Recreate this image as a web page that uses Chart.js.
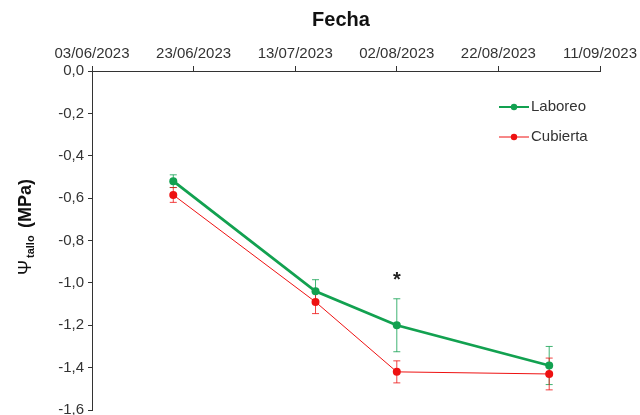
<!DOCTYPE html>
<html lang="es">
<head>
    <meta charset="UTF-8">
    <title>Potencial hídrico de tallo</title>
    <script src="https://cdn.jsdelivr.net/npm/chart.js"></script>
    <style>
        body { margin: 0; background: #fff; }
        #wrap { width: 640px; height: 415px; }
    </style>
</head>
<body>
    <div id="wrap"><canvas id="psiChart" width="640" height="415"></canvas></div>

    <script>
        // datos
        const fechaInicio = '03/06/2023';
        const fechas = ['19/06/2023', '17/07/2023', '02/08/2023', '01/09/2023'];
        const laboreo = [-0.52, -1.04, -1.20, -1.39];
        const laboreoErr = [0.03, 0.055, 0.125, 0.09];
        const cubierta = [-0.585, -1.09, -1.42, -1.43];
        const cubiertaErr = [0.035, 0.055, 0.052, 0.075];
        const significancia = ['', '', '*', ''];

        const FONT = "'Liberation Sans', Arial, sans-serif";
        const GREEN = '#12a150';
        const RED = '#ee1111';

        function parseFecha(s) {
            const [d, m, y] = s.split('/').map(Number);
            return Date.UTC(y, m - 1, d);
        }
        const DAY = 86400000;
        const t0 = parseFecha(fechaInicio);
        const toDias = s => (parseFecha(s) - t0) / DAY;
        function fmtFecha(dias) {
            const d = new Date(t0 + dias * DAY);
            const p = n => String(n).padStart(2, '0');
            return p(d.getUTCDate()) + '/' + p(d.getUTCMonth() + 1) + '/' + d.getUTCFullYear();
        }

        const series = [
            { label: 'Laboreo', values: laboreo, err: laboreoErr, color: GREEN, width: 2.8 },
            { label: 'Cubierta', values: cubierta, err: cubiertaErr, color: RED, width: 1 }
        ];

        // barras de error (debajo de los puntos)
        const errorBars = {
            id: 'errorBars',
            beforeDatasetsDraw(chart) {
                const { ctx, scales } = chart;
                ctx.save();
                series.forEach(s => {
                    ctx.strokeStyle = s.color;
                    ctx.globalAlpha = 0.8;
                    ctx.lineWidth = 1;
                    fechas.forEach((f, i) => {
                        const x = scales.x.getPixelForValue(toDias(f));
                        const yTop = scales.y.getPixelForValue(s.values[i] + s.err[i]);
                        const yBot = scales.y.getPixelForValue(s.values[i] - s.err[i]);
                        ctx.beginPath();
                        ctx.moveTo(x, yTop); ctx.lineTo(x, yBot);
                        ctx.moveTo(x - 3.5, yTop); ctx.lineTo(x + 3.5, yTop);
                        ctx.moveTo(x - 3.5, yBot); ctx.lineTo(x + 3.5, yBot);
                        ctx.stroke();
                    });
                });
                ctx.restore();
            }
        };

        // título, etiqueta del eje Y, leyenda y asterisco
        const extras = {
            id: 'extras',
            afterDraw(chart) {
                const { ctx, scales } = chart;
                ctx.save();
                ctx.fillStyle = '#111';
                ctx.font = 'bold 20px ' + FONT;
                ctx.textAlign = 'center';
                ctx.textBaseline = 'middle';
                ctx.fillText('Fecha', 341, 20);

                // Ψ tallo (MPa)
                ctx.save();
                ctx.translate(31, 226);
                ctx.rotate(-Math.PI / 2);
                ctx.textAlign = 'left';
                ctx.textBaseline = 'alphabetic';
                ctx.font = '18px ' + FONT;
                ctx.fillText('Ψ', -49, 0);
                ctx.font = 'bold 11px ' + FONT;
                ctx.fillText('tallo', -32, 3);
                ctx.font = 'bold 18px ' + FONT;
                ctx.fillText('(MPa)', -2, 0);
                ctx.restore();

                // asterisco de significancia
                ctx.font = 'bold 20px ' + FONT;
                ctx.fillStyle = '#222';
                fechas.forEach((f, i) => {
                    if (!significancia[i]) return;
                    const x = scales.x.getPixelForValue(toDias(f));
                    const yTop = scales.y.getPixelForValue(laboreo[i] + laboreoErr[i]);
                    ctx.fillText(significancia[i], x, yTop - 18);
                });

                // leyenda
                series.forEach((s, k) => {
                    const y = 107 + k * 30;
                    ctx.strokeStyle = s.color;
                    ctx.lineWidth = k === 0 ? 2 : 1;
                    ctx.beginPath();
                    ctx.moveTo(499, y); ctx.lineTo(529, y);
                    ctx.stroke();
                    ctx.fillStyle = s.color;
                    ctx.beginPath();
                    ctx.arc(514, y, 3.2, 0, Math.PI * 2);
                    ctx.fill();
                    ctx.fillStyle = '#333';
                    ctx.font = '15px ' + FONT;
                    ctx.textAlign = 'left';
                    ctx.textBaseline = 'middle';
                    ctx.fillText(s.label, 531, y);
                });
                ctx.restore();
            }
        };

        new Chart(document.getElementById('psiChart'), {
            type: 'line',
            data: {
                datasets: series.map(s => ({
                    label: s.label,
                    data: fechas.map((f, i) => ({ x: toDias(f), y: s.values[i] })),
                    borderColor: s.color,
                    backgroundColor: s.color,
                    borderWidth: s.width,
                    pointRadius: 4,
                    pointBorderWidth: 0,
                    tension: 0
                }))
            },
            options: {
                responsive: false,
                animation: false,
                layout: { padding: { left: 0, right: 40, top: 0, bottom: 5 } },
                plugins: { legend: { display: false }, tooltip: { enabled: false } },
                scales: {
                    x: {
                        type: 'linear',
                        position: 'top',
                        min: 0,
                        max: 100,
                        afterFit(scale) { scale.height = 71; },
                        afterBuildTicks(scale) {
                            scale.ticks = [0, 20, 40, 60, 80, 100].map(v => ({ value: v }));
                        },
                        ticks: {
                            callback: v => fmtFecha(v),
                            color: '#333',
                            font: { family: FONT, size: 15 },
                            maxRotation: 0,
                            padding: 3
                        },
                        grid: { drawOnChartArea: false, tickLength: 5, color: '#333' },
                        border: { color: '#333', width: 1 }
                    },
                    y: {
                        min: -1.6,
                        max: 0,
                        afterFit(scale) {
                            scale.width = 92;
                            scale.paddingTop = 0;
                            scale.paddingBottom = 0;
                        },
                        ticks: {
                            stepSize: 0.2,
                            callback: v => Math.abs(v) < 1e-9 ? '0,0' : v.toFixed(1).replace('.', ','),
                            color: '#333',
                            font: { family: FONT, size: 15 },
                            padding: 4
                        },
                        grid: { drawOnChartArea: false, tickLength: 4, color: '#333' },
                        border: { color: '#333', width: 1 }
                    }
                }
            },
            plugins: [errorBars, extras]
        });
    </script>
</body>
</html>
